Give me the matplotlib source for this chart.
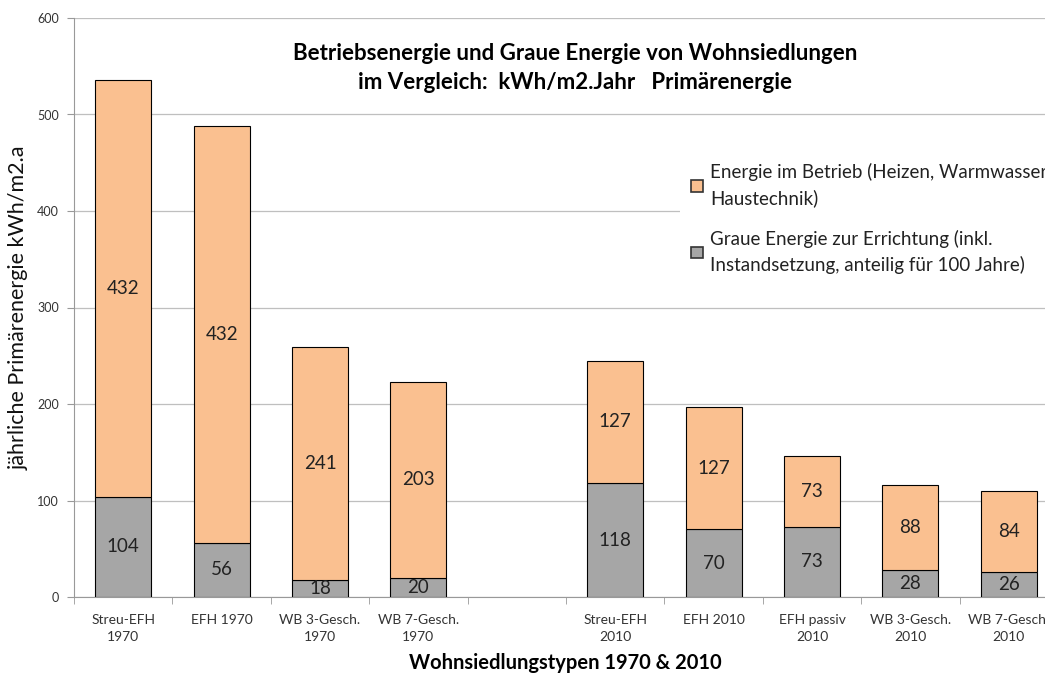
import numpy as np
import matplotlib.pyplot as plt
from matplotlib.patches import Patch

plt.rcParams['font.family'] = ['Lato', 'DejaVu Sans']

# categories (empty slot between the 1970 and 2010 groups)
labels = ["Streu-EFH\n1970", "EFH 1970", "WB 3-Gesch.\n1970", "WB 7-Gesch.\n1970", "",
          "Streu-EFH\n2010", "EFH 2010", "EFH passiv\n2010", "WB 3-Gesch.\n2010", "WB 7-Gesch.\n2010"]
graue = [104, 56, 18, 20, None, 118, 70, 73, 28, 26]
betrieb = [432, 432, 241, 203, None, 127, 127, 73, 88, 84]

orange = '#FAC090'
grau = '#A6A6A6'

fig = plt.figure(figsize=(10.45, 6.74), dpi=100)
ax = fig.add_axes([74/1045, 1-597/674, (1058-74)/1045, (597-18)/674])

x = np.arange(len(labels))
for i in x:
    if graue[i] is None:
        continue
    ax.bar(i, graue[i], width=0.57, color=grau, edgecolor='black', linewidth=0.8, zorder=3)
    ax.bar(i, betrieb[i], width=0.57, bottom=graue[i], color=orange, edgecolor='black',
           linewidth=0.8, zorder=3)
    ax.text(i, graue[i]/2, str(graue[i]), ha='center', va='center', fontsize=13.5, color='#222222', zorder=4)
    ax.text(i, graue[i] + betrieb[i]/2, str(betrieb[i]), ha='center', va='center', fontsize=13.5,
            color='#222222', zorder=4)

ax.set_xlim(-0.5, len(labels) - 0.5)
ax.set_ylim(0, 600)
ax.set_yticks(range(0, 601, 100))
ax.yaxis.grid(True, color='#BFBFBF', linewidth=0.9, zorder=0)
ax.set_axisbelow(True)

ax.set_xticks(x)
ax.set_xticklabels(labels, fontsize=10, color='#333333', linespacing=1.55)
ax.set_xticks(np.arange(-0.5, len(labels), 1), minor=True)
ax.tick_params(axis='x', which='major', length=0, pad=12)
ax.tick_params(axis='x', which='minor', length=5, color='#999999')
ax.tick_params(axis='y', length=5, color='#999999', labelsize=9, labelcolor='#333333', pad=6)

for s in ['top', 'right']:
    ax.spines[s].set_visible(False)
for s in ['left', 'bottom']:
    ax.spines[s].set_color('#999999')

ax.set_ylabel("jährliche Primärenergie kWh/m2.a", fontsize=15.5, color='#111111', labelpad=6)
fig.text(565/1045, 1-663/674, "Wohnsiedlungstypen 1970 & 2010", ha='center', va='center',
         fontsize=14.5, fontweight='bold')

fig.text(575/1045, 1-68/674, "Betriebsenergie und Graue Energie von Wohnsiedlungen\nim Vergleich:  kWh/m2.Jahr   Primärenergie",
         ha='center', va='center', fontsize=16, fontweight='bold', linespacing=1.5)

handles = [Patch(facecolor=orange, edgecolor='#333333', linewidth=1.2),
           Patch(facecolor=grau, edgecolor='#333333', linewidth=1.2)]
leg = ax.legend(handles, ["Energie im Betrieb (Heizen, Warmwasser,\nHaustechnik)",
                          "Graue Energie zur Errichtung (inkl.\nInstandsetzung, anteilig für 100 Jahre)"],
                loc='upper left', bbox_to_anchor=(680/1045, 1-152/674), bbox_transform=fig.transFigure,
                frameon=True, facecolor='white', edgecolor='none', framealpha=1, fancybox=False,
                fontsize=13.5, handlelength=0.6, handleheight=0.6, handletextpad=0.4,
                labelspacing=1.2, borderaxespad=0, borderpad=0.6)
for t in leg.get_texts():
    t.set_linespacing(1.55)
    t.set_color('#222222')
leg.set_zorder(5)

fig.savefig("out.png", dpi=100)
